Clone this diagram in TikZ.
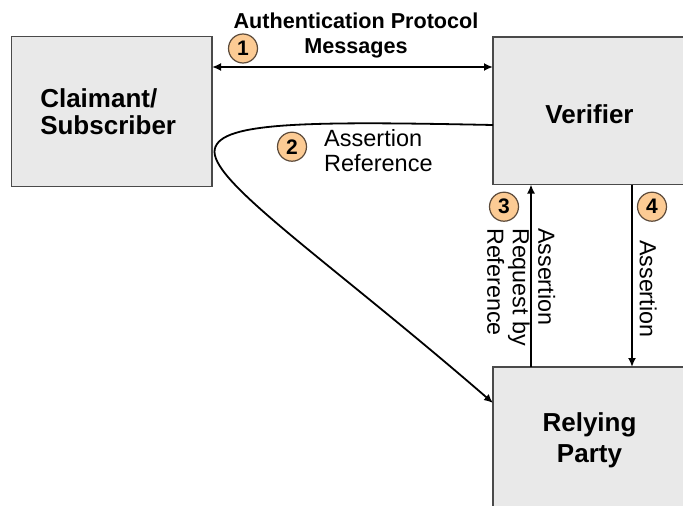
\documentclass[tikz,border=0pt]{standalone}
\usepackage{fontspec}
\setmainfont{Liberation Sans}
\usetikzlibrary{arrows.meta}
\definecolor{boxfill}{HTML}{E9E9E9}
\definecolor{boxborder}{HTML}{4A4A4A}
\definecolor{numfill}{HTML}{FCCB94}
\definecolor{numborder}{HTML}{5C4A3A}
\tikzset{
  box/.style={draw=boxborder, fill=boxfill, line width=1.5pt, inner sep=0pt, outer sep=0pt, rectangle},
  boxtext/.style={font=\bfseries\fontsize{26}{27}\selectfont},
  num/.style={circle, draw=numborder, fill=numfill, line width=1.2pt, minimum size=29pt, inner sep=0pt,
    font=\bfseries\fontsize{21}{21}\selectfont},
  conn/.style={line width=1.8pt, draw=black},
  tip/.style={-{Latex[length=9pt,width=8pt]}},
  lbl/.style={inner sep=0pt, font=\fontsize{23.5}{25}\selectfont},
  vlbl/.style={inner sep=0pt, rotate=-90, anchor=north west, align=left, font=\fontsize{23.3}{25.5}\selectfont}
}
\begin{document}
\begin{tikzpicture}[x=1pt,y=-1pt]
\useasboundingbox (0,0) rectangle (683,506);
\fill[white] (0,0) rectangle (683,506);
\clip (0,0) rectangle (683,506);
% boxes
\node[box, boxtext, minimum width=200.5pt, minimum height=150pt, text width=143pt, align=left]
  (claim) at (111.75,111.5) {Claimant/\\Subscriber};
\node[box, boxtext, minimum width=193pt, minimum height=147.5pt, text height=24.5pt, text depth=0pt]
  (ver) at (589.5,110.75) {Verifier};
\node[box, boxtext, minimum width=193pt, minimum height=146pt, align=center, font=\bfseries\fontsize{26}{31}\selectfont]
  (rp) at (589.5,440) {Relying\\Party};
% connector 1
\draw[conn, {Latex[length=9pt,width=8pt]}-{Latex[length=9pt,width=8pt]}]
  ([yshift=-30.5pt]claim.north east) -- ([yshift=-30pt]ver.north west);
\node[inner sep=0pt, align=center, font=\bfseries\fontsize{21.6}{25}\selectfont]
  (l1) at (356,35) {Authentication Protocol\\Messages};
\node[num] (n1) at (243,48.5) {1};
% connector 2
\coordinate (bend) at (214.5,152);
\draw[conn, tip] ([yshift=-88pt]ver.north west) .. controls (300,121) and (214.5,122) .. (bend)
  .. controls (215.5,185) and (330,262) .. ([yshift=-36pt]rp.north west);
\node[lbl, anchor=west, align=left] (l2) at (324,150.2) {Assertion\\Reference};
\node[num] (n2) at (292,146.7) {2};
% connector 3
\draw[conn, tip] ([xshift=38pt]rp.north west) -- ([xshift=38pt]ver.south west);
\node[num] (n3) at (504,206.7) {3};
\node[vlbl] (l3) at (555.5,228) {Assertion\\Request by\\Reference};
% connector 4
\draw[conn, tip] ([xshift=139pt]ver.south west) -- ([xshift=139pt]rp.north west);
\node[num] (n4) at (652,206.7) {4};
\node[vlbl] (l4) at (657,240) {Assertion};
\end{tikzpicture}
\end{document}
